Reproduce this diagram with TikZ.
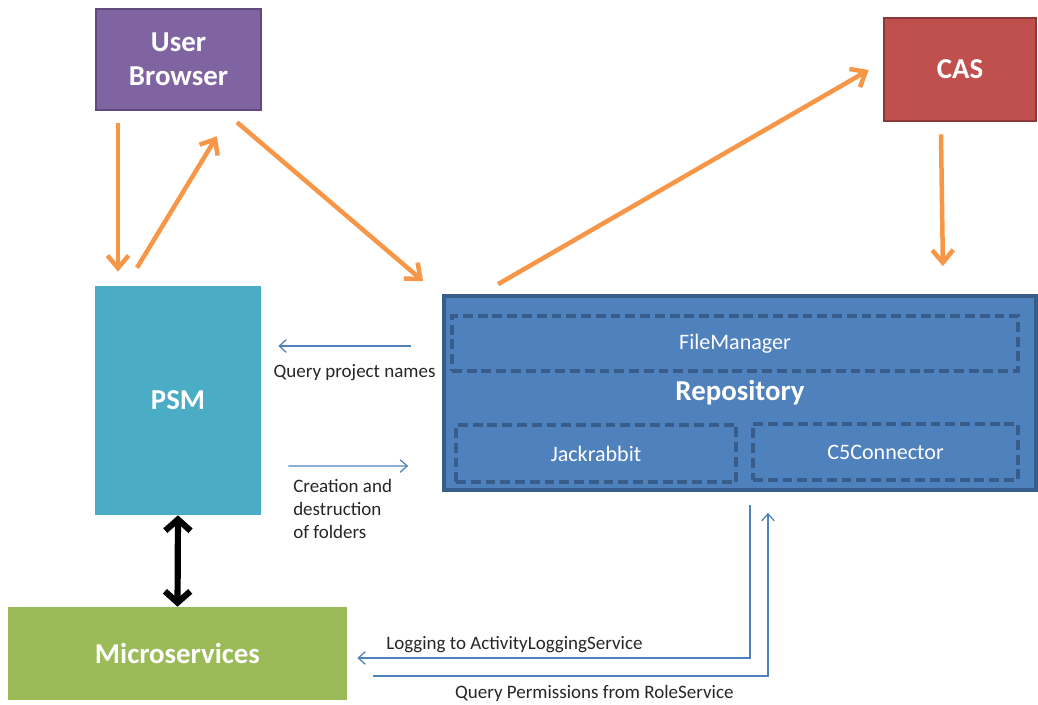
\documentclass[tikz,border=0pt]{standalone}
\usepackage{fontspec}
\setmainfont{Carlito}
\usetikzlibrary{arrows.meta,positioning,calc}

\definecolor{userfill}{HTML}{8064A2}
\definecolor{userline}{HTML}{5F4A7C}
\definecolor{casfill}{HTML}{C0504D}
\definecolor{casline}{HTML}{8C3836}
\definecolor{psmfill}{HTML}{4BACC6}
\definecolor{microfill}{HTML}{9BBB59}
\definecolor{repofill}{HTML}{4F81BD}
\definecolor{repoline}{HTML}{385D8A}
\definecolor{arrorange}{HTML}{F79646}

\begin{document}
\begin{tikzpicture}[x=0.025cm, y=-0.025cm,
    block/.style={text=white, align=center, inner sep=0pt,
        font=\bfseries\fontsize{20.5}{24.5}\selectfont},
    part/.style={draw=repoline, dashed, line width=2.4pt, dash pattern=on 7pt off 3.5pt,
        text=white, font=\fontsize{15.7}{18}\selectfont},
    orangearrow/.style={draw=arrorange, line width=3.2pt,
        -{Straight Barb[length=9pt,width=15pt]}},
    thinarrow/.style={draw=repofill, line width=0.9pt,
        -{Straight Barb[length=5pt,width=9pt]}},
    lbl/.style={font=\fontsize{13.5}{16.4}\selectfont, text=black!85}]
\useasboundingbox (0,0) rectangle (1038,704);

% boxes
\node[block, fill=userfill, draw=userline, line width=1.8pt,
    minimum width=4.125cm, minimum height=2.525cm] (user) at (178.5,59.5) {User\\Browser};
\node[block, fill=casfill, draw=casline, line width=1.8pt,
    minimum width=3.8cm, minimum height=2.575cm] (cas) at (960,69.5) {CAS};
\node[block, fill=psmfill, minimum width=4.15cm, minimum height=5.725cm] (psm) at (178,400.5) {PSM};
\node[block, fill=microfill, minimum width=8.475cm, minimum height=2.325cm] (micro) at (177.5,653.5) {Microservices};
\node[block, fill=repofill, draw=repoline, line width=2.6pt,
    minimum width=14.8cm, minimum height=4.85cm] (repo) at (740,393) {Repository};

% parts of the repository
\node[part, minimum width=14.15cm, minimum height=1.375cm] (fm) at (735,343.5) {FileManager};
\node[part, minimum width=7cm, minimum height=1.425cm] (jack) at (596,453.5) {Jackrabbit};
\node[part, minimum width=6.625cm, minimum height=1.4cm] (c5) at (885.5,452) {C5Connector};

% orange arrows
\draw[orangearrow] ($(user.south)+(-60.5,12)$) -- ($(psm.north)+(-60,-14)$);
\draw[orangearrow] ($(psm.north)+(-41,-18)$) -- ($(user.south)+(38.5,25)$);
\draw[orangearrow] ($(user.south)+(58.5,11)$) -- ($(repo.north west)+(-19,-13)$);
\draw[orangearrow] ($(repo.north west)+(56,-10)$) -- ($(cas.west)+(-14,0.5)$);
\draw[orangearrow] ($(cas.south)+(-19,12)$) -- ($(repo.north east)+(-95,-28)$);

% black link
\draw[line width=4.4pt, {Straight Barb[length=8pt,width=18pt]}-{Straight Barb[length=8pt,width=18pt]}]
    (psm.south) -- (micro.north);

% thin blue arrows
\draw[thinarrow] ($(repo.west)+(-31,-47)$) -- node[lbl, below=9pt, xshift=7] {Query project names} ($(psm.east)+(17,-54.5)$);
\draw[thinarrow] ($(psm.east)+(27,65.5)$) coordinate (cr) -- ($(repo.west)+(-34,73)$);
\node[lbl, below right=6pt and 0pt, align=left] (crlbl) at ($(cr)+(0,0)$) {Creation and\\destruction\\of folders};
\draw[thinarrow] ($(repo.south)+(10,13)$) |- node[lbl, above, pos=0.8] {Logging to ActivityLoggingService} ($(micro.east)+(10,4.5)$);
\draw[thinarrow] ($(micro.east)+(26,22.5)$) -| node[lbl, below=3pt, pos=0.28] {Query Permissions from RoleService} ($(repo.south)+(28,21)$);
\end{tikzpicture}
\end{document}
